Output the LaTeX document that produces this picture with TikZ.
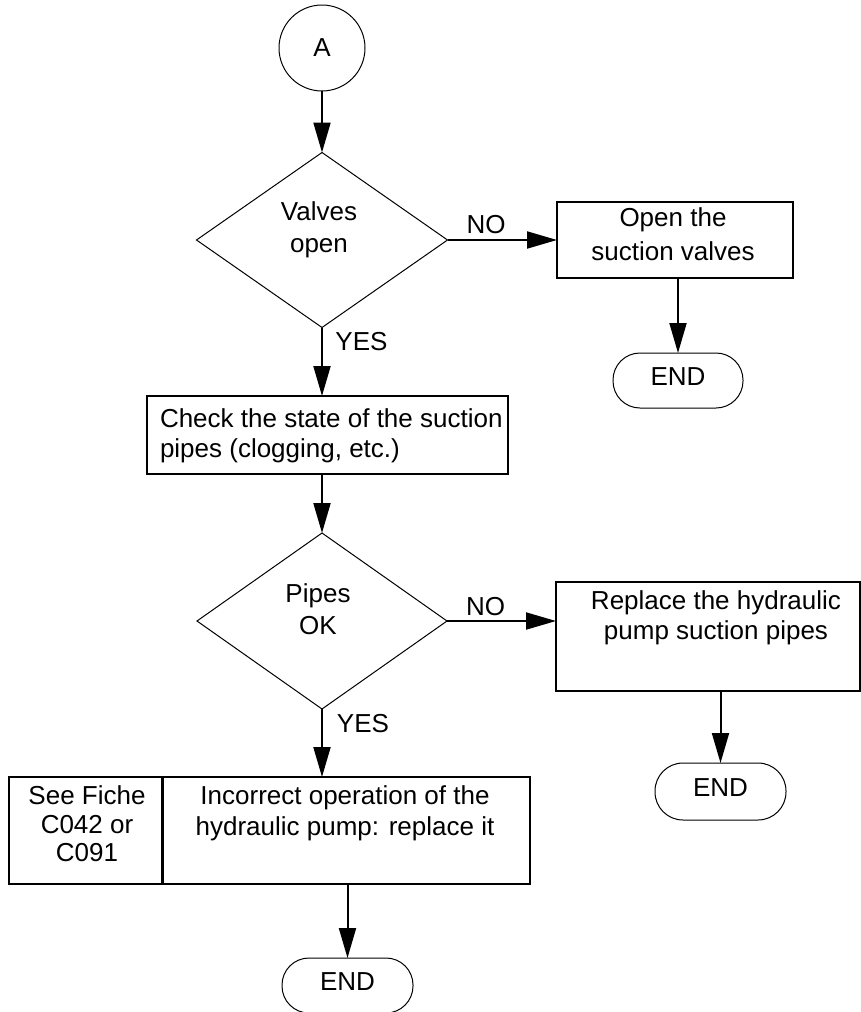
\documentclass[tikz,border=0pt]{standalone}
\usepackage{fontspec}
\setmainfont{Liberation Sans}
\usetikzlibrary{shapes.geometric,arrows.meta}
\begin{document}
\begin{tikzpicture}[x=1pt,y=-1pt,
  every node/.style={inner sep=0pt, outer sep=0pt},
  box/.style={draw, line width=2pt, rectangle},
  dec/.style={draw, diamond, line width=1pt},
  term/.style={draw, line width=1pt, rounded corners=27pt, font=\fontsize{26}{30}\selectfont, text height=18.6pt, text depth=8.6pt},
  arr/.style={line width=2pt, -{Triangle[length=30pt,width=17pt]}},
  lbl/.style={font=\fontsize{26}{30}\selectfont, anchor=base},
  txt/.style={font=\fontsize{26}{#1}\selectfont, align=center, anchor=north},
]
\useasboundingbox (0,0) rectangle (861,1012);

% nodes
\node[circle, draw, line width=1pt, minimum size=86pt, font=\fontsize{26}{30}\selectfont] (A) at (322,48) {A};

\node[dec, minimum width=251pt, minimum height=175pt] (d1) at (322,240) {};
\node[txt=32] (d1t) at (319,202) {Valves\\open};

\node[box, minimum width=236pt, minimum height=76pt] (open) at (675,240) {};
\node[txt=34] (opent) at (673,208) {Open the\\suction valves};

\node[term, minimum width=130pt, minimum height=55pt] (end1) at (678,380.5) {END};

\node[box, minimum width=361pt, minimum height=78pt] (check) at (327.5,435) {};
\node[txt=30, align=left, anchor=north west] (checkt) at (160,409) {Check the state of the suction\\pipes (clogging, etc.)};

\node[dec, minimum width=250pt, minimum height=176pt] (d2) at (322,621) {};
\node[txt=32] (d2t) at (318,584) {Pipes\\OK};

\node[box, minimum width=304pt, minimum height=109pt] (rep) at (708,636.5) {};
\node[txt=30] (rept) at (716,591) {Replace the hydraulic\\pump suction pipes};

\node[term, minimum width=131pt, minimum height=57pt, rounded corners=28pt] (end2) at (720.5,791.5) {END};

\node[box, minimum width=152.5pt, minimum height=107pt] (fiche) at (85.25,830.5) {};
\node[txt=28.5] (fichet) at (87,786) {See Fiche\\C042 or\\C091};

\node[box, minimum width=367.5pt, minimum height=107pt] (main) at (346.25,830.5) {};
\node[txt=31] (maint) at (345,786) {Incorrect operation of the\\hydraulic pump: replace it};

\node[term, minimum width=131pt, minimum height=55pt] (end3) at (347.5,985.5) {END};

% labels
\node[lbl] (no1) at (486,233) {NO};
\node[lbl] (yes1) at (361.5,350) {YES};
\node[lbl] (no2) at (485.5,615) {NO};
\node[lbl] (yes2) at (363,732) {YES};

% connectors
\draw[arr] (A) -- (d1.north);
\draw[arr] (d1.east) -- (open.west);
\draw[arr] (open.south -| end1.north) -- (end1.north);
\draw[arr] (d1.south) -- (d1.south |- check.north);
\draw[arr] (check.south -| d2.north) -- (d2.north);
\draw[arr] (d2.east) -- (d2.east -| rep.west);
\draw[arr] (rep.south -| end2.north) -- (end2.north);
\draw[arr] (d2.south) -- (d2.south |- main.north);
\draw[arr] (main.south -| end3.north) -- (end3.north);
\end{tikzpicture}
\end{document}
